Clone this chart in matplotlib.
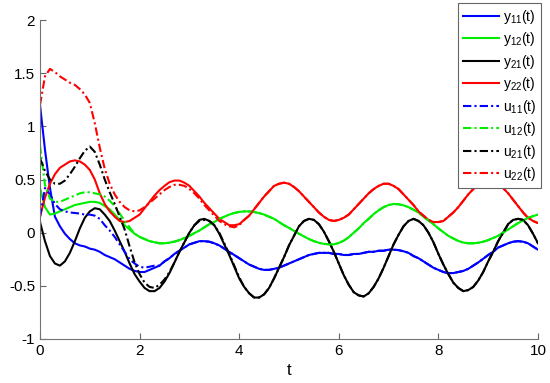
import numpy as np
import matplotlib
matplotlib.use('Agg')
import matplotlib.pyplot as plt

plt.rcParams['font.family'] = ['Liberation Sans', 'DejaVu Sans']
plt.rcParams['mathtext.default'] = 'regular'

# time grid, 0.1 s step
t = np.linspace(0, 10, 101)

y11 = [1.20, 0.78, 0.42, 0.15, 0.06, -0.01, -0.06, -0.10, -0.12, -0.13,
       -0.15, -0.16, -0.18, -0.21, -0.23, -0.25, -0.28, -0.31, -0.34, -0.36,
       -0.37, -0.37, -0.35, -0.33, -0.31, -0.27, -0.24, -0.20, -0.17, -0.14,
       -0.11, -0.095, -0.08, -0.08, -0.085, -0.10, -0.12, -0.15, -0.18, -0.21,
       -0.24, -0.27, -0.30, -0.32, -0.34, -0.35, -0.35, -0.34, -0.33, -0.31,
       -0.29, -0.27, -0.25, -0.23, -0.21, -0.20, -0.19, -0.19, -0.19, -0.20,
       -0.20, -0.21, -0.21, -0.20, -0.20, -0.19, -0.18, -0.18, -0.17, -0.17,
       -0.16, -0.16, -0.164, -0.175, -0.19, -0.22, -0.24, -0.27, -0.30, -0.33,
       -0.35, -0.37, -0.38, -0.38, -0.37, -0.36, -0.34, -0.31, -0.28, -0.245,
       -0.21, -0.18, -0.14, -0.12, -0.10, -0.085, -0.08, -0.085, -0.10, -0.13,
       -0.16]

y12 = [0.42, 0.24, 0.17, 0.18, 0.20, 0.22, 0.24, 0.26, 0.27, 0.28,
       0.29, 0.29, 0.28, 0.25, 0.22, 0.17, 0.12, 0.07, 0.03, -0.01,
       -0.04, -0.06, -0.08, -0.09, -0.10, -0.10, -0.094, -0.084, -0.07, -0.05,
       -0.03, -0.004, 0.02, 0.05, 0.08, 0.10, 0.13, 0.15, 0.17, 0.185,
       0.195, 0.20, 0.20, 0.194, 0.184, 0.17, 0.15, 0.13, 0.10, 0.07,
       0.045, 0.017, -0.01, -0.035, -0.06, -0.08, -0.095, -0.105, -0.11, -0.11,
       -0.097, -0.075, -0.043, 0.0, 0.04, 0.09, 0.13, 0.175, 0.21, 0.24,
       0.26, 0.27, 0.267, 0.257, 0.24, 0.216, 0.19, 0.15, 0.115, 0.08,
       0.04, 0.005, -0.03, -0.055, -0.078, -0.093, -0.10, -0.10, -0.095, -0.085,
       -0.07, -0.05, -0.03, 0.0, 0.03, 0.06, 0.09, 0.115, 0.14, 0.155,
       0.17]

y21 = [0.10, -0.08, -0.22, -0.29, -0.31, -0.27, -0.19, -0.08, 0.04, 0.14,
       0.20, 0.23, 0.22, 0.17, 0.11, 0.02, -0.08, -0.18, -0.29, -0.39,
       -0.46, -0.52, -0.55, -0.55, -0.52, -0.46, -0.38, -0.28, -0.18, -0.09,
       0.00, 0.07, 0.12, 0.13, 0.11, 0.07, -0.01, -0.11, -0.21, -0.32,
       -0.43, -0.51, -0.57, -0.61, -0.61, -0.58, -0.52, -0.43, -0.33, -0.23,
       -0.12, -0.03, 0.06, 0.11, 0.13, 0.12, 0.08, 0.01, -0.08, -0.18,
       -0.29, -0.40, -0.49, -0.56, -0.59, -0.60, -0.57, -0.51, -0.43, -0.33,
       -0.22, -0.11, -0.02, 0.06, 0.11, 0.13, 0.11, 0.07, 0.00, -0.09,
       -0.20, -0.30, -0.39, -0.47, -0.52, -0.55, -0.54, -0.51, -0.45, -0.37,
       -0.27, -0.18, -0.08, 0.00, 0.08, 0.12, 0.13, 0.12, 0.07, -0.01,
       -0.10]

y22 = [0.15, 0.33, 0.46, 0.55, 0.61, 0.64, 0.67, 0.68, 0.67, 0.64,
       0.59, 0.50, 0.37, 0.27, 0.20, 0.15, 0.11, 0.10, 0.11, 0.14,
       0.17, 0.23, 0.29, 0.35, 0.40, 0.44, 0.475, 0.49, 0.49, 0.47,
       0.44, 0.39, 0.34, 0.28, 0.23, 0.18, 0.13, 0.10, 0.07, 0.07,
       0.08, 0.12, 0.16, 0.22, 0.28, 0.34, 0.39, 0.44, 0.46, 0.47,
       0.46, 0.43, 0.39, 0.34, 0.29, 0.24, 0.19, 0.15, 0.12, 0.11,
       0.12, 0.14, 0.17, 0.22, 0.27, 0.32, 0.37, 0.41, 0.44, 0.46,
       0.46, 0.44, 0.41, 0.36, 0.31, 0.26, 0.20, 0.16, 0.12, 0.10,
       0.10, 0.11, 0.15, 0.19, 0.24, 0.30, 0.36, 0.41, 0.45, 0.48,
       0.49, 0.48, 0.46, 0.42, 0.37, 0.31, 0.25, 0.19, 0.14, 0.11,
       0.09]

# inputs: transient part read separately, afterwards they lie on the outputs
u11_head = [0.15, 0.42, 0.36, 0.27, 0.22, 0.20, 0.19, 0.185, 0.18, 0.17,
            0.17, 0.16, 0.13, 0.07, 0.02, -0.04, -0.11, -0.18, -0.25, -0.29,
            -0.32, -0.33, -0.32, -0.31, -0.31]
u12_head = [0.82, 0.45, 0.32, 0.29, 0.29, 0.31, 0.33, 0.35, 0.37, 0.38,
            0.38, 0.37, 0.36, 0.34, 0.30, 0.25, 0.18, 0.11, 0.05]
u21_head = [0.70, 0.58, 0.50, 0.46, 0.46, 0.49, 0.55, 0.62, 0.70, 0.77,
            0.81, 0.76, 0.64, 0.50, 0.38, 0.27, 0.15, 0.03, -0.13, -0.28,
            -0.39, -0.47, -0.51, -0.52, -0.49, -0.44, -0.37, -0.28, -0.18, -0.09,
            0.00, 0.07, 0.11, 0.12, 0.11, 0.07, 0.00, -0.10, -0.20, -0.31,
            -0.42]
u22_head = [1.20, 1.47, 1.54, 1.51, 1.47, 1.44, 1.41, 1.39, 1.35, 1.30,
            1.22, 1.03, 0.80, 0.60, 0.46, 0.36, 0.29, 0.24, 0.21, 0.20,
            0.21, 0.24, 0.28, 0.32, 0.36, 0.40, 0.43, 0.45, 0.45, 0.44,
            0.41, 0.37, 0.32, 0.26, 0.21, 0.16, 0.11, 0.08, 0.06, 0.05,
            0.07]

u11 = u11_head + y11[len(u11_head):]
u12 = u12_head + y12[len(u12_head):]
u21 = u21_head + y21[len(u21_head):]
u22 = u22_head + y22[len(u22_head):]

labels_y = ['y$_{11}$(t)', 'y$_{12}$(t)', 'y$_{21}$(t)', 'y$_{22}$(t)']
labels_u = ['u$_{11}$(t)', 'u$_{12}$(t)', 'u$_{21}$(t)', 'u$_{22}$(t)']
colors = ['#0000ff', '#00ee00', '#000000', '#ff0000']

yticks = [-1, -0.5, 0, 0.5, 1, 1.5, 2]
ytick_labels = ['-1', '-0.5', '0', '0.5', '1', '1.5', '2']
xticks = [0, 2, 4, 6, 8, 10]

fig = plt.figure(figsize=(5.5, 3.83), dpi=100)
ax = fig.add_axes([40/550, 44/383, 498/550, 319/383])

for ys, lab, c in zip([y11, y12, y21, y22], labels_y, colors):
    ax.plot(t, ys, color=c, lw=1.5, label=lab)
for us, lab, c in zip([u11, u12, u21, u22], labels_u, colors):
    ax.plot(t, us, color=c, lw=1.5, ls=(0, (4, 1.5, 1, 1.5)), label=lab)

ax.set_xlim(0, 10)
ax.set_ylim(-1, 2)
ax.set_xticks(xticks)
ax.set_xticklabels([str(x) for x in xticks])
ax.set_yticks(yticks)
ax.set_yticklabels(ytick_labels)
ax.tick_params(direction='in', length=4, labelsize=11, color='0.4')
ax.spines['top'].set_visible(False)
ax.spines['right'].set_visible(False)
ax.spines['left'].set_color('0.45')
ax.spines['bottom'].set_color('0.45')
ax.set_xlabel('t', fontsize=12, labelpad=4)

leg = ax.legend(loc='upper right', bbox_to_anchor=(541/550, 380/383),
                bbox_transform=fig.transFigure, borderaxespad=0,
                fontsize=10, handlelength=2.6, labelspacing=0.32,
                borderpad=0.35, handletextpad=0.3,
                fancybox=False, framealpha=1)
leg.get_frame().set_edgecolor('0.4')
leg.get_frame().set_linewidth(0.8)

fig.savefig('out.png', dpi=100)
